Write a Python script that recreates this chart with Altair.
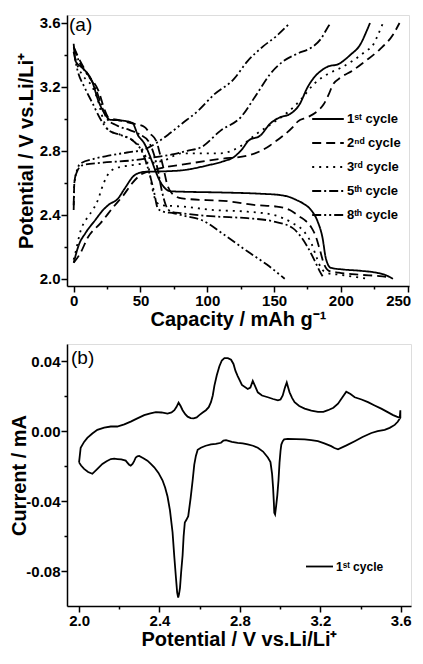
import altair as alt
import pandas as pd

# ---------------- Panel (a): charge / discharge curves ----------------
cycle_labels = ["1ˢᵗ  cycle", "2ⁿᵈ  cycle", "3ʳᵈ  cycle", "5ᵗʰ  cycle", "8ᵗʰ  cycle"]

# 1st cycle
c1_dis_cap = [0, 1.5, 5, 8.8, 13.7, 18.6, 23.5, 27, 36, 44, 48, 53, 57, 61, 64, 68, 72, 81, 110, 140, 154.4, 162, 166.7, 172, 177.7, 182.6, 186.3, 188.7, 192.4, 202, 215, 226.7, 233, 239]
c1_dis_pot = [3.47, 3.36, 3.33, 3.30, 3.237, 3.11, 3.03, 2.995, 2.99, 2.975, 2.9, 2.845, 2.77, 2.68, 2.62, 2.57, 2.548, 2.545, 2.54, 2.532, 2.524, 2.51, 2.493, 2.47, 2.43, 2.359, 2.255, 2.13, 2.069, 2.058, 2.05, 2.038, 2.025, 2.0]
c1_chg_cap = [0, 3.9, 8.8, 16.2, 22, 26, 33.3, 38.2, 45.6, 52.9, 67.6, 82.4, 100.5, 112, 120, 126, 131, 139.7, 147, 154.4, 161.8, 169, 175.2, 180, 185, 191, 197.3, 207, 214.5, 219.3, 221.8]
c1_chg_pot = [2.10, 2.213, 2.286, 2.368, 2.43, 2.462, 2.503, 2.565, 2.648, 2.669, 2.672, 2.68, 2.71, 2.735, 2.762, 2.81, 2.865, 2.896, 2.97, 3.01, 3.03, 3.09, 3.2, 3.26, 3.30, 3.33, 3.34, 3.40, 3.465, 3.55, 3.6]

# 2nd cycle
c2_dis_cap = [0, 5, 11.3, 18.6, 23.5, 26, 35, 45, 53, 57, 62, 64, 67, 70, 74, 81, 117.6, 134.8, 152, 161.8, 169, 174, 178, 181, 184, 187.5, 191, 198.5, 215, 229, 236]
c2_dis_pot = [3.45, 3.36, 3.27, 3.175, 3.05, 3.01, 2.99, 2.97, 2.95, 2.91, 2.86, 2.8, 2.7, 2.59, 2.53, 2.503, 2.483, 2.462, 2.452, 2.43, 2.39, 2.36, 2.32, 2.27, 2.19, 2.09, 2.05, 2.038, 2.025, 2.017, 2.01]
c2_chg_cap = [0, 5, 10.7, 20.3, 30.1, 37, 44, 50, 60, 70, 80.9, 110, 130, 147, 152, 164, 167.9, 175, 182.6, 187, 191, 193.6, 200, 208.3, 218, 229, 239, 243.9]
c2_chg_pot = [2.1, 2.16, 2.26, 2.35, 2.453, 2.52, 2.6, 2.65, 2.68, 2.7, 2.714, 2.75, 2.77, 2.834, 2.865, 2.948, 2.985, 3.01, 3.05, 3.09, 3.155, 3.207, 3.26, 3.30, 3.36, 3.434, 3.527, 3.6]

# 3rd cycle
c3_dis_cap = [0, 3, 7, 14, 18, 22, 26, 35, 45, 52, 56, 59, 62, 66, 75, 81, 105, 130, 149.5, 164, 172, 178, 182, 185, 190, 200, 212, 221]
c3_dis_pot = [3.42, 3.33, 3.27, 3.2, 3.12, 3.0, 2.93, 2.9, 2.86, 2.8, 2.7, 2.56, 2.48, 2.46, 2.455, 2.452, 2.43, 2.42, 2.40, 2.348, 2.30, 2.22, 2.13, 2.07, 2.035, 2.025, 2.01, 2.0]
c3_chg_cap = [0, 1.5, 5.1, 10, 15, 18.6, 21, 24.8, 30.9, 43, 67.6, 80.9, 110, 125, 137, 150, 160, 170, 180, 190, 200, 210, 218, 224.3, 228, 231.5]
c3_chg_pot = [2.12, 2.17, 2.298, 2.38, 2.44, 2.503, 2.565, 2.64, 2.69, 2.71, 2.74, 2.785, 2.785, 2.83, 2.907, 2.98, 3.04, 3.12, 3.22, 3.28, 3.32, 3.37, 3.42, 3.465, 3.53, 3.6]

# 5th cycle
c5_dis_cap = [0, 4, 10, 16, 21, 25, 32, 42, 50, 56, 60, 63, 66, 69, 73, 81, 105.4, 130, 149.5, 164, 169, 175, 180, 184, 187.5]
c5_dis_pot = [3.45, 3.36, 3.28, 3.2, 3.08, 3.0, 2.96, 2.93, 2.9, 2.86, 2.78, 2.68, 2.55, 2.46, 2.42, 2.41, 2.39, 2.379, 2.359, 2.317, 2.275, 2.2, 2.12, 2.05, 2.0]
c5_chg_cap = [0, 0.5, 3, 6.4, 20, 43, 60, 75, 85, 95.6, 110, 125, 137, 147, 156.8, 167.9, 177.7, 185, 190, 192.4]
c5_chg_pot = [2.43, 2.6, 2.68, 2.71, 2.725, 2.74, 2.76, 2.78, 2.8, 2.824, 2.927, 3.01, 3.155, 3.28, 3.36, 3.41, 3.445, 3.5, 3.57, 3.6]

# 8th cycle
c8_dis_cap = [0, 3, 8, 14, 20, 26, 35, 45, 52, 57, 60, 63, 67, 75, 85, 95.6, 112.7, 130, 144.6, 158]
c8_dis_pot = [3.42, 3.3, 3.2, 3.1, 3.0, 2.93, 2.9, 2.86, 2.78, 2.65, 2.55, 2.44, 2.42, 2.41, 2.39, 2.368, 2.275, 2.172, 2.089, 2.0]
c8_chg_cap = [0, 0.5, 2.5, 5, 15, 26, 40, 53, 62, 72, 81, 93, 105.4, 120, 130, 142, 152, 161.8]
c8_chg_pot = [2.46, 2.6, 2.68, 2.72, 2.75, 2.77, 2.79, 2.81, 2.85, 2.91, 2.97, 3.05, 3.155, 3.25, 3.36, 3.455, 3.52, 3.6]

curves_a = [
    (cycle_labels[0], "1d", c1_dis_cap, c1_dis_pot), (cycle_labels[0], "1c", c1_chg_cap, c1_chg_pot),
    (cycle_labels[1], "2d", c2_dis_cap, c2_dis_pot), (cycle_labels[1], "2c", c2_chg_cap, c2_chg_pot),
    (cycle_labels[2], "3d", c3_dis_cap, c3_dis_pot), (cycle_labels[2], "3c", c3_chg_cap, c3_chg_pot),
    (cycle_labels[3], "5d", c5_dis_cap, c5_dis_pot), (cycle_labels[3], "5c", c5_chg_cap, c5_chg_pot),
    (cycle_labels[4], "8d", c8_dis_cap, c8_dis_pot), (cycle_labels[4], "8c", c8_chg_cap, c8_chg_pot),
]
rows = []
for cyc, cid, xs, ys in curves_a:
    for k, (xv, yv) in enumerate(zip(xs, ys)):
        rows.append({"cycle": cyc, "curve": cid, "i": k, "cap": xv, "pot": yv})
df_a = pd.DataFrame(rows)

dash_patterns = [[1, 0], [9, 5], [2, 5], [9, 3, 2, 3], [9, 3, 2, 3, 2, 3]]

# ---------------- Panel (b): cyclic voltammogram ----------------
cv_v = [2.0, 2.008, 2.025, 2.041, 2.066, 2.091, 2.125, 2.158, 2.19, 2.225, 2.257, 2.29, 2.324, 2.355, 2.382, 2.41, 2.44, 2.46, 2.474, 2.485, 2.495, 2.505, 2.515, 2.528, 2.54, 2.555, 2.57, 2.585, 2.598, 2.615, 2.631, 2.645, 2.656, 2.665, 2.673, 2.685, 2.698, 2.71, 2.723, 2.74, 2.756, 2.768, 2.778, 2.789, 2.81, 2.839, 2.852, 2.864, 2.875, 2.889, 2.91, 2.939, 2.965, 2.989, 3.002, 3.013, 3.024, 3.033, 3.04, 3.047, 3.06, 3.072, 3.095, 3.122, 3.155, 3.188, 3.215, 3.238, 3.265, 3.288, 3.31, 3.329, 3.35, 3.371, 3.405, 3.437, 3.47, 3.503, 3.535, 3.562, 3.58, 3.595, 3.598,
        3.598, 3.585, 3.57, 3.545, 3.52, 3.485, 3.454, 3.41, 3.371, 3.33, 3.288, 3.27, 3.254, 3.22, 3.188, 3.155, 3.122, 3.08, 3.038, 3.02, 3.013, 3.006, 3.002, 2.997, 2.992, 2.986, 2.98, 2.975, 2.971, 2.969, 2.965, 2.96, 2.952, 2.939, 2.915, 2.889, 2.865, 2.839, 2.814, 2.789, 2.76, 2.731, 2.718, 2.706, 2.68, 2.656, 2.63, 2.606, 2.59, 2.581, 2.573, 2.565, 2.555, 2.543, 2.534, 2.526, 2.52, 2.515, 2.508, 2.502, 2.497, 2.493, 2.488, 2.482, 2.474, 2.465, 2.452, 2.44, 2.428, 2.415, 2.395, 2.374, 2.357, 2.34, 2.32, 2.299, 2.29, 2.282, 2.274, 2.266, 2.257, 2.249, 2.24, 2.232, 2.21, 2.191, 2.175, 2.158, 2.137, 2.116, 2.09, 2.066, 2.045, 2.025, 2.01, 2.0]
cv_i = [-0.0177, -0.0093, -0.006, -0.0037, -0.0012, 0.0009, 0.0022, 0.0028, 0.0028, 0.004, 0.0056, 0.0074, 0.0093, 0.0103, 0.011, 0.0108, 0.0102, 0.0108, 0.0121, 0.014, 0.0164, 0.0145, 0.0121, 0.0098, 0.0084, 0.0076, 0.0074, 0.008, 0.0093, 0.0108, 0.0121, 0.0138, 0.0167, 0.0205, 0.026, 0.032, 0.0372, 0.0405, 0.0418, 0.0418, 0.0409, 0.0385, 0.0345, 0.0316, 0.0265, 0.0242, 0.025, 0.0288, 0.026, 0.0223, 0.0205, 0.0195, 0.0185, 0.0177, 0.0182, 0.0205, 0.025, 0.0279, 0.025, 0.0223, 0.019, 0.0167, 0.0145, 0.013, 0.0118, 0.0112, 0.0112, 0.0121, 0.0135, 0.0158, 0.0195, 0.0227, 0.0213, 0.0195, 0.0182, 0.0167, 0.0148, 0.013, 0.011, 0.0093, 0.0084, 0.0078, 0.0121,
        0.0078, 0.0055, 0.0037, 0.002, 0.0009, 0.0002, -0.0009, -0.0032, -0.0056, -0.008, -0.0102, -0.0095, -0.0084, -0.0068, -0.0056, -0.005, -0.0046, -0.0044, -0.0043, -0.0046, -0.0056, -0.0075, -0.0112, -0.018, -0.0279, -0.0365, -0.0428, -0.0474, -0.0465, -0.0409, -0.032, -0.0242, -0.0175, -0.0149, -0.0115, -0.0093, -0.0082, -0.0074, -0.0068, -0.0065, -0.006, -0.005, -0.0052, -0.0065, -0.0071, -0.0074, -0.0082, -0.0093, -0.0105, -0.014, -0.019, -0.0279, -0.038, -0.0484, -0.0505, -0.052, -0.06, -0.0707, -0.08, -0.0893, -0.093, -0.0949, -0.092, -0.0837, -0.072, -0.0576, -0.045, -0.0372, -0.032, -0.0279, -0.0237, -0.0205, -0.0185, -0.0167, -0.0153, -0.014, -0.0142, -0.0149, -0.017, -0.0186, -0.0195, -0.019, -0.0178, -0.0167, -0.016, -0.0158, -0.0156, -0.0158, -0.017, -0.0186, -0.0215, -0.0242, -0.0232, -0.0214, -0.0195, -0.0177]
cv_label = ["1ˢᵗ  cycle"]

df_b = pd.DataFrame({"v": cv_v, "cur": cv_i, "i": list(range(len(cv_v))), "series": cv_label * len(cv_v)})

FONT = "Liberation Sans"
axis_common = dict(
    domainColor="black", domainWidth=1.5, tickColor="black", tickWidth=1.5,
    labelFont=FONT, labelFontWeight="bold", labelFontSize=15, labelColor="black",
    titleFont=FONT, titleFontWeight="bold", titleFontSize=20, titleColor="black",
    grid=False, labelPadding=1,
)

xa = alt.X("cap:Q", title="Capacity / mAh g⁻¹",
           scale=alt.Scale(domain=[-5, 251], nice=False, zero=False),
           axis=alt.Axis(values=list(range(0, 251, 25)),
                         labelExpr="datum.value % 50 === 0 ? datum.label : ''",
                         tickSize=alt.condition("datum.value % 50 === 0", alt.value(6), alt.value(3)),
                         labelFlush=3, labelFlushOffset=3,
                         titlePadding=1, **axis_common))
ya = alt.Y("pot:Q", title="Potential / V vs.Li/Li⁺",
           scale=alt.Scale(domain=[1.955, 3.65], nice=False, zero=False),
           axis=alt.Axis(values=[2.0, 2.2, 2.4, 2.6, 2.8, 3.0, 3.2, 3.4, 3.6], format=".1f",
                         labelExpr="round(datum.value*10) % 4 === 0 ? datum.label : ''",
                         tickSize=alt.condition("round(datum.value*10) % 4 === 0", alt.value(6), alt.value(3)),
                         titlePadding=3, **axis_common))

lines_a = alt.Chart(df_a).mark_line(color="black", strokeWidth=1.8, interpolate="monotone").encode(
    x=xa, y=ya,
    strokeDash=alt.StrokeDash("cycle:N", scale=alt.Scale(domain=cycle_labels, range=dash_patterns),
                              legend=alt.Legend(title=None, orient="none", legendX=244, legendY=87, padding=0,
                                                symbolType="stroke", symbolSize=1000, symbolStrokeWidth=1.8,
                                                symbolStrokeColor="black", labelFont=FONT, labelFontWeight="bold",
                                                labelFontSize=13, labelColor="black", labelOffset=2, rowPadding=-9.5)),
    detail="curve:N",
    order="i:Q",
)
label_a = alt.Chart(pd.DataFrame({"t": ["(a)"]})).mark_text(
    align="left", baseline="top", font=FONT, fontSize=19, color="black").encode(
    text="t:N", x=alt.value(2), y=alt.value(1))
chart_a = alt.layer(lines_a, label_a).properties(width=342, height=271)

xb = alt.X("v:Q", title="Potential / V vs.Li/Li⁺",
           scale=alt.Scale(domain=[1.94, 3.651], nice=False, zero=False),
           axis=alt.Axis(values=[2.0, 2.2, 2.4, 2.6, 2.8, 3.0, 3.2, 3.4, 3.6], format=".1f",
                         labelExpr="round(datum.value*10) % 4 === 0 ? datum.label : ''",
                         tickSize=alt.condition("round(datum.value*10) % 4 === 0", alt.value(6), alt.value(3)),
                         titlePadding=1, **axis_common))
yb = alt.Y("cur:Q", title="Current / mA",
           scale=alt.Scale(domain=[-0.0997, 0.0499], nice=False, zero=False),
           axis=alt.Axis(values=[-0.08, -0.06, -0.04, -0.02, 0.0, 0.02, 0.04],
                         labelExpr="round(datum.value*100) % 4 === 0 ? replace(format(datum.value, '.2f'), '\u2212', '-') : ''",
                         tickSize=alt.condition("round(datum.value*100) % 4 === 0", alt.value(6), alt.value(3)),
                         titlePadding=-3.5, **axis_common))
lines_b = alt.Chart(df_b).mark_line(strokeWidth=1.8, interpolate="linear").encode(
    x=xb, y=yb,
    color=alt.Color("series:N", scale=alt.Scale(domain=cv_label, range=["black"]),
                    legend=alt.Legend(title=None, orient="none", legendX=238, legendY=208, padding=0,
                                      symbolType="stroke", symbolSize=729, symbolStrokeWidth=1.8,
                                      labelFont=FONT, labelFontWeight="bold", labelFontSize=12,
                                      labelColor="black", labelOffset=2)),
    order="i:Q",
)
label_b = alt.Chart(pd.DataFrame({"t": ["(b)"]})).mark_text(
    align="left", baseline="top", font=FONT, fontSize=19, color="black").encode(
    text="t:N", x=alt.value(4), y=alt.value(5))
chart_b = alt.layer(lines_b, label_b).properties(width=344, height=262)

chart = alt.concat(chart_a, chart_b, columns=1, spacing=13).resolve_scale(
    color="independent", strokeDash="independent"
).resolve_legend(color="independent", strokeDash="independent").properties(
    padding={"left": 0, "top": 6, "right": 0, "bottom": 0}
).configure_view(stroke="black", strokeWidth=1.5).configure(background="white")

chart.save("out.html", embed_options={"renderer": "svg", "actions": False})
